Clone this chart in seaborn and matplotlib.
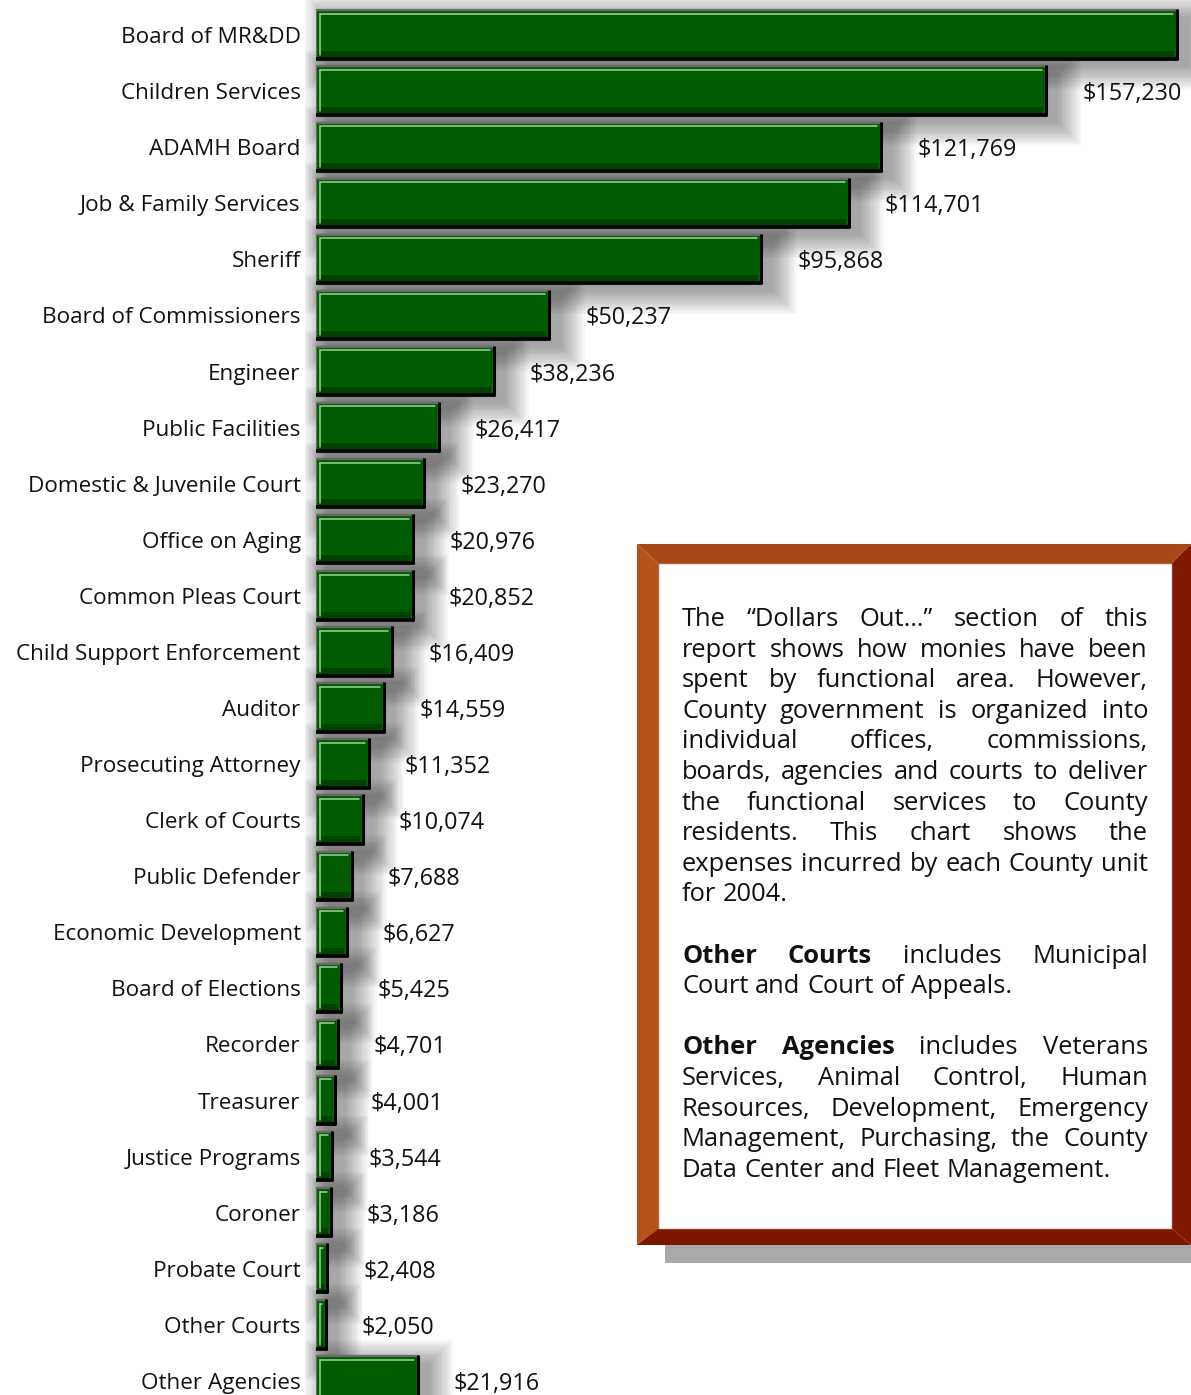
import numpy as np
import pandas as pd
import matplotlib
matplotlib.use("Agg")
import matplotlib.pyplot as plt
import seaborn as sns
from matplotlib.patches import Rectangle, Polygon
from matplotlib.lines import Line2D
from matplotlib.transforms import IdentityTransform

# County expenses for 2004 by unit (thousands of dollars)
units = [
    "Board of MR&DD", "Children Services", "ADAMH Board", "Job & Family Services",
    "Sheriff", "Board of Commissioners", "Engineer", "Public Facilities",
    "Domestic & Juvenile Court", "Office on Aging", "Common Pleas Court",
    "Child Support Enforcement", "Auditor", "Prosecuting Attorney", "Clerk of Courts",
    "Public Defender", "Economic Development", "Board of Elections", "Recorder",
    "Treasurer", "Justice Programs", "Coroner", "Probate Court", "Other Courts",
    "Other Agencies",
]
spending = [
    185400, 157230, 121769, 114701, 95868, 50237, 38236, 26417, 23270, 20976,
    20852, 16409, 14559, 11352, 10074, 7688, 6627, 5425, 4701, 4001, 3544,
    3186, 2408, 2050, 21916,
]

note_lines = [
    "The “Dollars Out…” section of this",
    "report shows how monies have been",
    "spent by functional area. However,",
    "County government is organized into",
    "individual offices, commissions,",
    "boards, agencies and courts to deliver",
    "the functional services to County",
    "residents. This chart shows the",
    "expenses incurred by each County unit",
    "for 2004.",
    "",
    "Other Courts includes Municipal",
    "Court and Court of Appeals.",
    "",
    "Other Agencies includes Veterans",
    "Services, Animal Control, Human",
    "Resources, Development, Emergency",
    "Management, Purchasing, the County",
    "Data Center and Fleet Management.",
]
# number of leading bold words on each line
note_bold = [0] * 11 + [2, 0, 0, 2, 0, 0, 0, 0]

sns.set_theme(style="white")
plt.rcParams["font.family"] = ["Open Sans", "DejaVu Sans"]

W, H = 1191, 1395
fig = plt.figure(figsize=(W / 100, H / 100), dpi=100)
fig.patch.set_facecolor("white")

ax = fig.add_axes([316 / W, 0, 875 / W, (H - 7) / H])
ax.set_facecolor("none")
df = pd.DataFrame({"unit": units, "spending": spending})
sns.barplot(data=df, x="spending", y="unit", orient="h", color="#005C00",
            saturation=1, width=0.88, edgecolor="#6a6a6a", linewidth=1.6,
            ax=ax, zorder=3)
ax.set_xlim(0, 188450)
ax.set_ylim(24.25, -0.5)
for s in ax.spines.values():
    s.set_visible(False)
ax.set_xlabel("")
ax.set_ylabel("")
ax.set_xticks([])
ax.tick_params(axis="y", length=0, pad=11, labelsize=16.2, labelcolor="#111111")

# bevel and soft drop shadow on every bar, taken from the bar geometry
ident = IdentityTransform()
for p in ax.patches:
    x0, y0, w, h = p.get_x(), p.get_y(), p.get_width(), p.get_height()
    (ax0, ay0), (ax1, ay1) = ax.transData.transform([(x0, y0), (x0 + w, y0 + h)])
    L, R = min(ax0, ax1), max(ax0, ax1)
    B, T = min(ay0, ay1), max(ay0, ay1)
    for k in range(14):
        r = 1.8 * k
        ax.add_patch(Rectangle((L + 12 - r, B - 7 - r), (R - L) + 2 * r, (T - B) + 2 * r,
                               facecolor="black", edgecolor="none", alpha=0.028,
                               transform=ident, zorder=1, clip_on=False))
    # darker lower band inside the bar
    ax.add_patch(Rectangle((L + 2, B + 3), max(R - L - 5, 1), 6, facecolor="#003800",
                           edgecolor="none", alpha=0.7, transform=ident, zorder=4,
                           clip_on=False))
    # light rim on the top and left
    ax.add_line(Line2D([L + 3.5, R - 4], [T - 3.5, T - 3.5], color="#9fd39a", lw=1.1,
                       transform=ident, zorder=5, clip_on=False))
    ax.add_line(Line2D([L + 3.5, L + 3.5], [B + 5, T - 3.5], color="#9fd39a", lw=1.1,
                       transform=ident, zorder=5, clip_on=False))
    # black edge at the bottom and right
    ax.add_line(Line2D([L, R + 1], [B + 1, B + 1], color="black", lw=2.6,
                       transform=ident, zorder=6, clip_on=False, solid_capstyle="butt"))
    ax.add_line(Line2D([R, R], [B, T + 1], color="black", lw=2.2,
                       transform=ident, zorder=6, clip_on=False, solid_capstyle="butt"))

# value labels (the top bar's label sits beyond the right margin)
for i, v in enumerate(spending):
    if i == 0:
        continue
    ax.annotate(f"${v:,}", xy=(v, i), xytext=(36, -3), textcoords="offset pixels",
                ha="left", va="center", fontsize=16.8, color="#111111", zorder=7)

# overlay in pixel units for the note box
ov = fig.add_axes([0, 0, 1, 1], zorder=10)
ov.set_xlim(0, W)
ov.set_ylim(H, 0)
ov.axis("off")
ov.patch.set_alpha(0)

bx0, bx1, by0, by1, fw = 637, 1191, 544, 1245, 20
ov.add_patch(Rectangle((bx0 + 28, by1), bx1 - bx0 - 28, 18, facecolor="#a9a9a9",
                       edgecolor="none"))
ov.add_patch(Polygon([(bx0, by0), (bx1, by0), (bx1 - fw, by0 + fw), (bx0 + fw + 2, by0 + fw)],
                     closed=True, facecolor="#a94817", edgecolor="none"))
ov.add_patch(Polygon([(bx0, by0), (bx0 + fw + 2, by0 + fw), (bx0 + fw + 2, by1 - 17), (bx0, by1)],
                     closed=True, facecolor="#b4521c", edgecolor="none"))
ov.add_patch(Polygon([(bx0, by1), (bx0 + fw + 2, by1 - 17), (bx1 - fw, by1 - 17), (bx1, by1)],
                     closed=True, facecolor="#7b1700", edgecolor="none"))
ov.add_patch(Polygon([(bx1, by0), (bx1 - fw, by0 + fw), (bx1 - fw, by1 - 17), (bx1, by1)],
                     closed=True, facecolor="#801900", edgecolor="none"))
ov.add_patch(Rectangle((bx0 + fw + 2, by0 + fw), bx1 - bx0 - 2 * fw - 2, by1 - by0 - fw - 17,
                       facecolor="white", edgecolor="#e8e0dc", linewidth=1))

# justified note text
tx0, tx1 = 682, 1148
base0, lead = 626, 30.6
renderer = fig.canvas.get_renderer()


def text_width(s, weight, size):
    t = ov.text(0, 0, s, fontsize=size, fontweight=weight)
    wpx = t.get_window_extent(renderer).width
    t.remove()
    return wpx


# size the note so its widest line fits the column
widest = max(text_width(l, "normal", 16) for l in note_lines if l)
FS = min(16 * (tx1 - tx0 - 4) / widest, 19)

space_w = text_width("n n", "normal", FS) - 2 * text_width("n", "normal", FS)
for k, line in enumerate(note_lines):
    if not line:
        continue
    words = line.split()
    weights = ["bold" if j < note_bold[k] else "normal" for j in range(len(words))]
    widths = [text_width(wd, wt, FS) for wd, wt in zip(words, weights)]
    last = (k + 1 >= len(note_lines)) or (note_lines[k + 1] == "")
    if last or len(words) == 1:
        gap = space_w
    else:
        gap = (tx1 - tx0 - sum(widths)) / (len(words) - 1)
    x = tx0
    y = base0 + k * lead
    for wd, wt, wpx in zip(words, weights, widths):
        ov.text(x, y, wd, fontsize=FS, fontweight=wt, ha="left", va="baseline",
                color="#111111")
        x += wpx + gap

fig.savefig("out.png", dpi=100, facecolor="white")
